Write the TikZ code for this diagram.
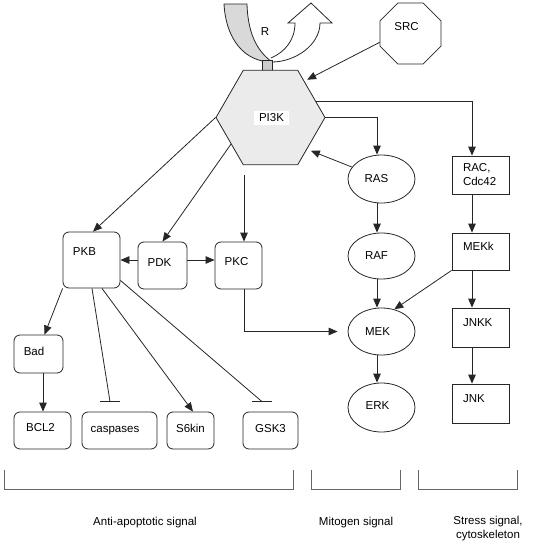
\documentclass[tikz,border=0pt]{standalone}
\usepackage{fontspec}
\setmainfont{Liberation Sans}
\usetikzlibrary{shapes.geometric,arrows.meta}
\newcommand\liftup[2]{\raisebox{#1}[\height][\depth]{#2}}
\begin{document}
\begin{tikzpicture}[x=1pt,y=-1pt,
  every node/.style={font=\fontsize{11.5}{14}\selectfont, inner sep=0pt},
  line/.style={draw=black!85, line width=0.8pt},
  arr/.style={line, -{Triangle[length=9pt,width=7.5pt]}},
  rbox/.style={line, rectangle, rounded corners=6pt},
  sbox/.style={line, rectangle, minimum width=57pt, text width=35pt, align=left},
  oval/.style={line, ellipse, minimum width=67pt},
  brk/.style={draw=black!60, line width=0.7pt}]
\useasboundingbox (0,0) rectangle (552,541);

% receptor
\path[line, fill=white] (272,62) .. controls (295,62) and (320,45) .. (320,23) -- (332,23) -- (311,3) -- (288,23) -- (295,23) .. controls (295,40) and (285,52) .. (271,58);
\path[line, fill=gray!30] (224,4) .. controls (226,40) and (245,62) .. (272,62) .. controls (260,53) and (248,38) .. (247,4) -- cycle;
\node (r) at (265,32) {R};
\path[line, fill=gray!40] (262,60) rectangle (272,71);

% PI3K and SRC
\node[line, regular polygon, regular polygon sides=6, minimum size=109pt, fill=gray!16] (pi3k) at (270.5,117.5) {};
\node[fill=white, inner xsep=5pt, inner ysep=3pt] (pi3kt) at (271.5,118) {PI3K};
\node[line, regular polygon, regular polygon sides=8, minimum size=66pt] (src) at (410.5,33.5) {\liftup{7pt}{SRC}\hspace*{8pt}};

% left column boxes
\node[rbox, minimum width=57pt, minimum height=56pt] (pkb) at (91.5,260) {\liftup{8pt}{PKB}\hspace*{14pt}};
\node[rbox, minimum width=49pt, minimum height=47pt] (pdk) at (162.5,265.5) {\liftup{3pt}{PDK}\hspace*{6pt}};
\node[rbox, minimum width=47pt, minimum height=47pt] (pkc) at (238.5,265.5) {\liftup{4pt}{PKC}\hspace*{4pt}};
\node[rbox, minimum width=49pt, minimum height=38pt] (bad) at (38.5,354) {\liftup{3pt}{Bad}\hspace*{9pt}};
\node[rbox, minimum width=57pt, minimum height=37pt] (bcl2) at (42.5,430.5) {\liftup{3pt}{BCL2}\hspace*{4pt}};
\node[rbox, minimum width=75pt, minimum height=37pt] (casp) at (119.5,430.5) {caspases\hspace*{9pt}};
\node[rbox, minimum width=47pt, minimum height=37pt] (s6) at (190.5,430.5) {\liftup{2pt}{S6kin}};
\node[rbox, minimum width=55pt, minimum height=37pt] (gsk) at (270.5,430.5) {\liftup{2pt}{GSK3}};

% middle column
\node[oval, minimum height=48pt] (ras) at (381.5,179) {RAS\hspace*{10pt}};
\node[oval, minimum height=46pt] (raf) at (381.5,256) {RAF\hspace*{10pt}};
\node[oval, minimum height=47pt] (mek) at (381.5,331.5) {MEK\hspace*{8pt}};
\node[oval, minimum height=49pt] (erk) at (381.5,407.5) {\liftup{2pt}{ERK}\hspace*{8pt}};

% right column
\node[sbox, minimum height=38pt] (rac) at (480.5,175) {RAC,\\Cdc42};
\node[sbox, minimum height=37pt] (mekk) at (480.5,251.5) {\liftup{5pt}{MEKk}};
\node[sbox, minimum height=39pt] (jnkk) at (480.5,327.5) {\liftup{5pt}{JNKK}};
\node[sbox, minimum height=39pt] (jnk) at (480.5,403.5) {\liftup{5pt}{JNK}};

% connectors
\draw[arr, shorten >=3pt] (src.196) -- (pi3k.47);
\draw[arr] (pi3k.east) -| ([xshift=-4.5pt]ras.north);
\draw[arr] (pi3k.20) -| ([xshift=-8.5pt]rac.north);
\draw[arr, shorten >=4pt] (ras.158) -- (pi3k.-41);
\draw[arr] (pi3k.180) -- ([xshift=1.5pt]pkb.north);
\draw[arr] (pi3k.214) -- (pdk.north);
\draw[arr, shorten <=10pt] ([xshift=5.5pt]pkc.north |- pi3k.south) -- ([xshift=5.5pt]pkc.north);
\draw[arr] (pdk.west |- pkb.east) -- (pkb.east);
\draw[arr] (pdk.east |- pkb.east) -- (pkc.west |- pkb.east);

\draw[arr] ([xshift=-4.5pt]ras.south) -- ([xshift=-4.5pt]raf.north);
\draw[arr] ([xshift=-4.5pt]raf.south) -- ([xshift=-4.5pt]mek.north);
\draw[arr] ([xshift=-4.5pt]mek.south) -- ([xshift=-4.5pt]erk.north);
\draw[arr] ([xshift=-8.5pt]rac.south) -- ([xshift=-8.5pt]mekk.north);
\draw[arr] ([xshift=-8.5pt]mekk.south) -- ([xshift=-8.5pt]jnkk.north);
\draw[arr] ([xshift=-8.5pt]jnkk.south) -- ([xshift=-8.5pt]jnk.north);
\draw[arr] (mekk.south west) -- (mek.60);
\draw[arr, shorten >=10pt] ([xshift=5.5pt]pkc.south) |- (mek.west);

\draw[arr] (pkb.south west) -- ([xshift=6pt]bad.north);
\draw[arr] ([xshift=4.5pt]bad.south) -- ([xshift=4.5pt]bad.south |- bcl2.north);
\coordinate (cbar) at ([xshift=-9.5pt,yshift=10pt]casp.north);
\coordinate (gbar) at ([xshift=-8.5pt,yshift=10pt]gsk.north);
\draw[line] ([xshift=0.5pt]pkb.south) -- (cbar);
\draw[line] ([xshift=-10pt]cbar) -- ([xshift=10pt]cbar);
\draw[arr] ([xshift=10.5pt]pkb.south) -- ([xshift=2.5pt]s6.north);
\draw[line] ([yshift=8pt]pkb.south east) -- (gbar);
\draw[line] ([xshift=-10pt]gbar) -- ([xshift=10pt]gbar);

% brackets
\draw[brk] (4,470) -- (4,489) -- (293,489) -- (293,470);
\draw[brk] (311,470) -- (311,489) -- (400,489) -- (400,470);
\draw[brk] (418,470) -- (418,489) -- (517,489) -- (517,470);
\node (l1) at (145,523) {Anti-apoptotic signal};
\node (l2) at (356,523) {Mitogen signal};
\node[align=center] (l3) at (488,528.5) {Stress signal,\\cytoskeleton};
\end{tikzpicture}
\end{document}
